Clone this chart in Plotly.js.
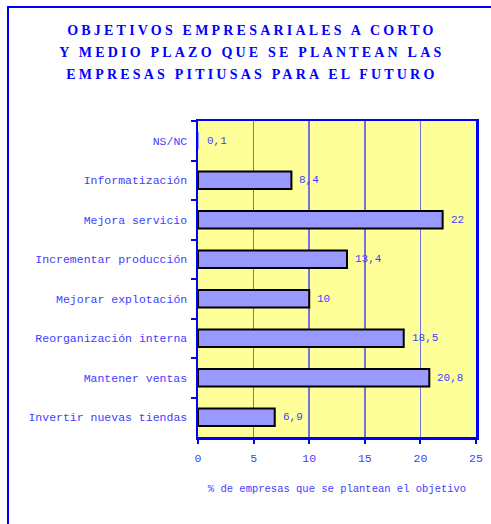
<!DOCTYPE html>
<html>
<head>
<meta charset="utf-8">
<script src="https://cdn.plot.ly/plotly-3.0.1.min.js"></script>
<style>
  html, body { margin: 0; padding: 0; background: #ffffff; }
  #wrap { position: relative; width: 491px; height: 524px; overflow: hidden; }
  #chart { position: absolute; left: 0; top: 0; width: 491px; height: 524px; }
  #frame { position: absolute; left: 7px; top: 6px; width: 500px; height: 540px;
           border-left: 2px solid #0000ff; border-top: 2px solid #0000ff; pointer-events: none; }
</style>
</head>
<body>
<div id="wrap">
  <div id="chart"></div>
  <div id="frame"></div>
</div>
<script>
const categories = [
  "NS/NC",
  "Informatización",
  "Mejora servicio",
  "Incrementar producción",
  "Mejorar explotación",
  "Reorganización interna",
  "Mantener ventas",
  "Invertir nuevas tiendas"
];
const values = [0.1, 8.4, 22, 13.4, 10, 18.5, 20.8, 6.9];
const valueLabels = values.map(v => String(v).replace('.', ','));
const xTickValues = [0, 5, 10, 15, 20, 25];
const titleLines = [
  "OBJETIVOS EMPRESARIALES A CORTO",
  "Y MEDIO PLAZO QUE SE PLANTEAN LAS",
  "EMPRESAS PITIUSAS PARA EL FUTURO"
];
const xTitle = "% de empresas que se plantean el objetivo";

const labelBlue = "#4040ff";
const mono = "Liberation Mono, DejaVu Sans Mono, monospace";

const trace = {
  type: "bar",
  orientation: "h",
  y: categories,
  x: values,
  width: 0.44,
  marker: { color: "#9999ff", line: { color: "#000000", width: values.map(v => v < 1 ? 0 : 2) } },
  hoverinfo: "skip"
};

const valueAnnotations = values.map((v, i) => ({
  x: v, y: categories[i], xref: "x", yref: "y",
  text: valueLabels[i], showarrow: false,
  xanchor: "left", yanchor: "middle", xshift: 6,
  font: { family: mono, size: 11, color: labelBlue }
}));

const layout = {
  width: 491,
  height: 524,
  margin: { l: 198, r: 15, t: 121, b: 87, pad: 0 },
  paper_bgcolor: "#ffffff",
  plot_bgcolor: "#ffff99",
  showlegend: false,
  title: {
    text: titleLines.join("<br>"),
    font: { family: "Liberation Serif, serif", size: 14, color: "#0000ff", weight: "bold" },
    x: 0.513, xref: "container", xanchor: "center",
    y: 0.933, yref: "container", yanchor: "middle"
  },
  xaxis: {
    range: [0, 25],
    tickvals: xTickValues,
    ticktext: xTickValues.map(String),
    ticks: "outside", ticklen: 4, tickwidth: 2, tickcolor: "#0000ff",
    ticklabelstandoff: 5,
    tickfont: { family: mono, size: 11.5, color: labelBlue },
    showgrid: true, gridcolor: "#7373e0", gridwidth: 1.5,
    showline: true, linecolor: "#0000ff", linewidth: 2.5, mirror: true,
    zeroline: false, fixedrange: true,
    title: { text: xTitle, font: { family: mono, size: 10.5, color: labelBlue }, standoff: 21 }
  },
  yaxis: {
    type: "category",
    categoryorder: "array",
    categoryarray: categories,
    autorange: "reversed",
    tickson: "boundaries",
    ticks: "outside", ticklen: 5, tickwidth: 2, tickcolor: "#0000ff",
    ticklabelstandoff: 6,
    tickfont: { family: mono, size: 11.5, color: labelBlue },
    showgrid: false,
    showline: true, linecolor: "#0000ff", linewidth: 2.5, mirror: true,
    zeroline: false, fixedrange: true
  },
  annotations: valueAnnotations,
  bargap: 0.56
};

Plotly.newPlot("chart", [trace], layout, { displayModeBar: false, staticPlot: true }).then(gd => {
  const t = gd.querySelector(".gtitle");
  if (t) {
    t.style.letterSpacing = "3.2px";
    const lines = t.querySelectorAll("tspan.line");
    lines.forEach(l => {
      const dy = l.getAttribute("dy");
      if (dy && dy.endsWith("em")) {
        const v = parseFloat(dy);
        l.setAttribute("dy", (v * 22 / (1.3 * 14)) + "em");
      }
    });
  }
});
</script>
</body>
</html>
